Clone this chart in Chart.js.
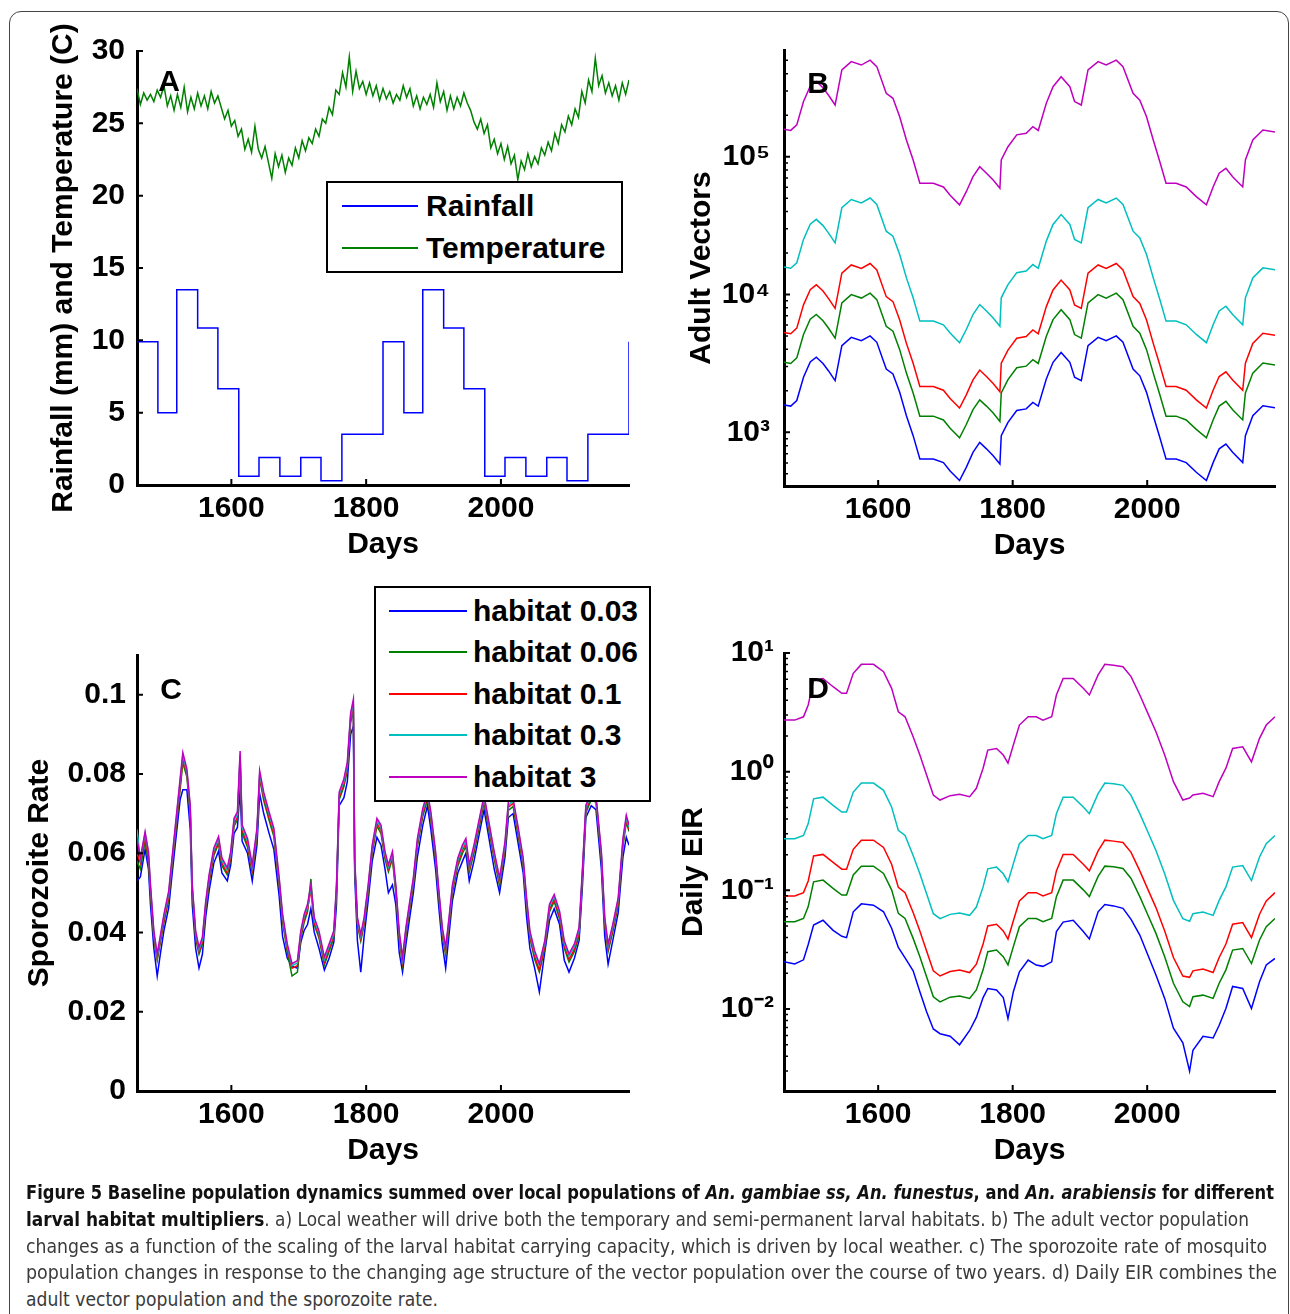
<!DOCTYPE html>
<html>
<head>
<meta charset="utf-8">
<script src="https://cdn.jsdelivr.net/npm/chart.js@4.4.1/dist/chart.umd.min.js"></script>
<style>
html, body { margin: 0; padding: 0; background: #fff; }
body { width: 1290px; height: 1314px; position: relative; overflow: hidden; font-family: 'Liberation Sans', Arial, sans-serif; }
.frame { position: absolute; left: 9px; top: 11px; width: 1278px; height: 1400px; border: 1.5px solid #444; border-radius: 12px; }
canvas { position: absolute; }
.lbl { position: absolute; font-size: 30px; font-weight: bold; line-height: 1; transform: translate(-50%, -50%); color: #000; }
.legend { position: absolute; background: #fff; border: 2px solid #000; box-sizing: border-box; }
.item { position: absolute; font-size: 30px; font-weight: bold; line-height: 1; transform: translateY(-50%); color: #000; white-space: nowrap; }
.swatch { position: absolute; height: 0; border-top: 2px solid; }
.cap { position: absolute; left: 26px; white-space: nowrap; transform-origin: 0 50%; font-size: 19px; line-height: 26px; color: #3a3a3a;
       font-family: 'Liberation Sans Narrow', 'DejaVu Sans Condensed', 'Liberation Sans', sans-serif; }
.cap b { color: #111; }
</style>
</head>
<body>
<div class="frame"></div>
<canvas id="cA" width="645" height="575" style="left:0;top:0"></canvas>
<canvas id="cB" width="645" height="576" style="left:645px;top:0"></canvas>
<canvas id="cC" width="645" height="601" style="left:0;top:580px"></canvas>
<canvas id="cD" width="645" height="601" style="left:645px;top:580px"></canvas>

<div class="lbl" style="left:169px;top:81px">A</div>
<div class="lbl" style="left:818px;top:83px">B</div>
<div class="lbl" style="left:171px;top:689px">C</div>
<div class="lbl" style="left:818px;top:688px">D</div>

<div class="legend" style="left:326px;top:181px;width:297px;height:92px"></div>
<div class="swatch" style="left:342px;top:205px;width:76px;border-color:#0000ff"></div>
<div class="item" style="left:426px;top:206px">Rainfall</div>
<div class="swatch" style="left:342px;top:247px;width:76px;border-color:#008000"></div>
<div class="item" style="left:426px;top:248px">Temperature</div>

<div class="legend" style="left:374px;top:586px;width:277px;height:216px"></div>
<div class="swatch" style="left:389px;top:610px;width:78px;border-color:#0000ff"></div>
<div class="item" style="left:473px;top:611px">habitat 0.03</div>
<div class="swatch" style="left:389px;top:651px;width:78px;border-color:#008000"></div>
<div class="item" style="left:473px;top:652px">habitat 0.06</div>
<div class="swatch" style="left:389px;top:693px;width:78px;border-color:#ff0000"></div>
<div class="item" style="left:473px;top:694px">habitat 0.1</div>
<div class="swatch" style="left:389px;top:734px;width:78px;border-color:#00bfbf"></div>
<div class="item" style="left:473px;top:735px">habitat 0.3</div>
<div class="swatch" style="left:389px;top:776px;width:78px;border-color:#bf00bf"></div>
<div class="item" style="left:473px;top:777px">habitat 3</div>

<div class="cap" data-w="1248" style="top:1179px"><b>Figure 5 Baseline population dynamics summed over local populations of <i>An. gambiae ss, An. funestus</i>, and <i>An. arabiensis</i> for different</b></div>
<div class="cap" data-w="1223" style="top:1206px"><b>larval habitat multipliers</b>. a) Local weather will drive both the temporary and semi-permanent larval habitats. b) The adult vector population</div>
<div class="cap" data-w="1241" style="top:1233px">changes as a function of the scaling of the larval habitat carrying capacity, which is driven by local weather. c) The sporozoite rate of mosquito</div>
<div class="cap" data-w="1251" style="top:1259px">population changes in response to the changing age structure of the vector population over the course of two years. d) Daily EIR combines the</div>
<div class="cap" data-w="412" style="top:1286px">adult vector population and the sporozoite rate.</div>

<script>
// ---- shared axis values ----
const dayMin = 1460;
const dayMax = 2190;
const dayTicks = [1600, 1800, 2000];

// ---- panel A: weather ----
const rainDays = [1460,1491,1519,1550,1580,1611,1641,1672,1703,1733,1764,1794,1825,
                  1856,1884,1915,1945,1976,2006,2037,2068,2098,2129,2159,2190];
const rainfall = [9.9,5,13.5,10.85,6.65,0.6,1.9,0.6,1.9,0.3,3.5,3.5,
                  9.9,5,13.5,10.85,6.65,0.6,1.9,0.6,1.9,0.3,3.5,3.5,9.9];

const tempDays = [1460,1465,1470,1475,1480,1485,1490,1495,1500,1505,1510,1515,1520,1525,1530,1535,1540,1545,1550,1555,
  1560,1565,1570,1575,1580,1585,1590,1595,1600,1605,1610,1615,1620,1625,1630,1635,1640,1645,1650,1655,
  1660,1665,1670,1675,1680,1685,1690,1695,1700,1705,1710,1715,1720,1725,1730,1735,1740,1745,1750,1755,
  1760,1765,1770,1775,1780,1785,1790,1795,1800,1805,1810,1815,1820,1825,1830,1835,1840,1845,1850,1855,
  1860,1865,1870,1875,1880,1885,1890,1895,1900,1905,1910,1915,1920,1925,1930,1935,1940,1945,1950,1955,
  1960,1965,1970,1975,1980,1985,1990,1995,2000,2005,2010,2015,2020,2025,2030,2035,2040,2045,2050,2055,
  2060,2065,2070,2075,2080,2085,2090,2095,2100,2105,2110,2115,2120,2125,2130,2135,2140,2145,2150,2155,
  2160,2165,2170,2175,2180,2185,2190];
const temperature = [27.4,26.3,27.1,26.6,27.0,26.5,27.3,26.8,27.6,26.2,26.9,25.9,27.0,26.1,27.5,25.8,26.8,26.0,27.1,26.2,
  26.9,26.0,27.2,26.4,26.9,26.1,25.3,25.9,24.8,25.2,24.1,24.6,23.2,23.9,23.0,24.8,23.2,22.6,23.4,22.3,
  21.2,22.9,22.0,22.8,21.6,22.6,22.1,23.3,22.6,23.8,23.1,24.0,23.6,24.6,24.1,25.3,25.0,26.1,25.6,27.3,
  27.0,28.5,27.5,29.6,27.2,28.6,27.4,27.9,27.0,27.8,26.9,27.6,26.6,27.4,26.7,27.2,26.4,27.0,26.6,27.6,
  26.8,27.4,26.2,26.9,26.0,26.8,26.3,27.0,26.1,27.8,26.5,27.2,25.9,26.9,26.0,26.8,26.2,27.1,26.4,25.9,
  25.1,24.6,25.3,24.3,24.9,23.3,23.9,22.9,23.6,22.5,23.4,22.2,22.8,21.1,22.4,21.8,22.9,22.0,22.7,22.2,
  23.3,22.8,23.7,23.1,24.3,23.6,24.9,24.4,25.5,24.9,26.0,25.4,27.2,26.4,28.0,27.2,29.5,27.6,28.3,27.1,
  27.8,26.9,27.6,26.6,27.8,27.0,28.0];
const weatherTicks = [0, 5, 10, 15, 20, 25, 30];

// ---- panel B: adult vectors ----
const daysB = [1460,1470,1479,1489,1499,1508,1518,1526,1536,1546,1560,1575,1588,1598,1612,1622,1632,1642,1652,1662,
  1672,1682,1697,1707,1721,1731,1741,1751,1761,1771,1781,1783,1793,1806,1820,1830,1838,1850,1860,1872,
  1885,1892,1902,1912,1927,1939,1954,1964,1979,1989,1999,2009,2018,2028,2043,2058,2073,2088,2098,2107,
  2117,2127,2142,2146,2157,2172,2190];
const vectorsH3 = [158000,155000,170000,251000,324000,351000,316000,280000,237000,426000,
  489000,462000,501000,450000,288000,265000,195000,132000,94600,64100,
  64100,64100,60300,52500,44700,55700,71600,84500,75900,67600,
  58900,94600,118000,144000,148000,165000,155000,244000,322000,380000,
  322000,251000,237000,426000,489000,462000,501000,450000,288000,257000,
  195000,132000,94600,64100,64100,60300,51300,44700,60300,75900,
  82200,71600,60300,94600,132000,156000,151000];
const vectorsH03 = [15800,15500,17000,25100,32400,35100,31600,28000,23700,42600,
  48900,46200,50100,45000,28800,26500,19500,13200,9460,6410,
  6410,6410,6030,5250,4470,5570,7160,8450,7590,6760,
  5890,9460,11800,14400,14800,16500,15500,24400,32200,38000,
  32200,25100,23700,42600,48900,46200,50100,45000,28800,25700,
  19500,13200,9460,6410,6410,6030,5130,4470,6030,7590,
  8220,7160,6030,9460,13200,15600,15100];
const vectorsH01 = [5290,5190,5700,8410,10850,11760,10590,9380,7940,14270,
  16380,15480,16780,15080,9650,8880,6530,4420,3170,2150,
  2150,2150,2020,1760,1500,1870,2400,2830,2540,2260,
  1970,3170,3950,4820,4960,5530,5190,8170,10790,12730,
  10790,8410,7940,14270,16380,15480,16780,15080,9650,8610,
  6530,4420,3170,2150,2150,2020,1720,1500,2020,2540,
  2750,2400,2020,3170,4420,5230,5060];
const vectorsH006 = [3220,3160,3470,5120,6610,7160,6450,5710,4830,8690,
  9980,9420,10220,9180,5880,5410,3980,2690,1930,1310,
  1310,1310,1230,1070,912,1140,1460,1720,1550,1380,
  1200,1930,2410,2940,3020,3370,3160,4980,6570,7750,
  6570,5120,4830,8690,9980,9420,10220,9180,5880,5240,
  3980,2690,1930,1310,1310,1230,1050,912,1230,1550,
  1680,1460,1230,1930,2690,3180,3080];
const vectorsH003 = [1580,1550,1700,2510,3240,3510,3160,2800,2370,4260,
  4890,4620,5010,4500,2880,2650,1950,1320,946,641,
  641,641,603,525,447,557,716,845,759,676,
  589,946,1180,1440,1480,1650,1550,2440,3220,3800,
  3220,2510,2370,4260,4890,4620,5010,4500,2880,2570,
  1950,1320,946,641,641,603,513,447,603,759,
  822,716,603,946,1320,1560,1510];
const vectorTicks = [1e3, 1e4, 1e5];

// ---- panel C: sporozoite rate ----
const daysC = [1460,1465,1472,1477,1480,1485,1490,1495,1500,1507,1512,1517,1524,1528,1534,1539,1542,1547,1552,1557,
  1562,1567,1574,1581,1586,1594,1599,1604,1609,1613,1616,1624,1631,1638,1642,1648,1656,1663,1671,1676,
  1683,1690,1698,1703,1708,1713,1718,1723,1730,1738,1745,1752,1756,1760,1767,1772,1777,1781,1783,1787,
  1792,1797,1803,1809,1816,1822,1828,1833,1839,1844,1849,1854,1859,1864,1870,1876,1884,1891,1896,1903,
  1908,1913,1918,1923,1928,1936,1943,1948,1953,1960,1968,1975,1983,1990,1998,2006,2011,2018,2025,2033,
  2038,2043,2050,2057,2065,2072,2079,2087,2094,2101,2109,2116,2121,2126,2134,2141,2149,2154,2159,2166,
  2174,2181,2186,2190];
const sporoH3 = [0.0637,0.0588,0.0654,0.0604,0.0520,0.0404,0.0346,0.0396,0.0446,0.0504,
  0.0588,0.0671,0.0788,0.0854,0.0813,0.0721,0.0520,0.0404,0.0363,0.0388,
  0.0479,0.0546,0.0613,0.0642,0.0588,0.0563,0.0604,0.0688,0.0704,0.0858,
  0.0671,0.0637,0.0571,0.0663,0.0808,0.0754,0.0704,0.0663,0.0538,0.0446,
  0.0371,0.0321,0.0329,0.0404,0.0446,0.0471,0.0520,0.0438,0.0404,0.0338,
  0.0371,0.0404,0.0520,0.0754,0.0788,0.0829,0.0954,0.0988,0.0588,0.0438,
  0.0396,0.0438,0.0520,0.0621,0.0688,0.0671,0.0604,0.0571,0.0604,0.0520,
  0.0404,0.0338,0.0413,0.0471,0.0538,0.0637,0.0713,0.0754,0.0704,0.0604,
  0.0504,0.0413,0.0363,0.0438,0.0520,0.0588,0.0621,0.0637,0.0571,0.0621,
  0.0688,0.0746,0.0671,0.0604,0.0538,0.0629,0.0729,0.0738,0.0671,0.0588,
  0.0488,0.0404,0.0354,0.0321,0.0379,0.0471,0.0496,0.0454,0.0379,0.0346,
  0.0371,0.0413,0.0563,0.0721,0.0754,0.0746,0.0604,0.0438,0.0371,0.0421,
  0.0488,0.0637,0.0696,0.0671];
const sporoH03 = [0.0660,0.0585,0.0650,0.0600,0.0515,0.0398,0.0340,0.0390,0.0440,0.0498,
  0.0582,0.0665,0.0782,0.0848,0.0806,0.0715,0.0515,0.0398,0.0357,0.0382,
  0.0473,0.0540,0.0607,0.0636,0.0582,0.0557,0.0598,0.0682,0.0698,0.0848,
  0.0665,0.0630,0.0565,0.0657,0.0800,0.0748,0.0698,0.0657,0.0532,0.0440,
  0.0365,0.0316,0.0323,0.0398,0.0440,0.0465,0.0514,0.0432,0.0398,0.0332,
  0.0365,0.0398,0.0514,0.0748,0.0782,0.0822,0.0948,0.0982,0.0582,0.0432,
  0.0390,0.0432,0.0514,0.0615,0.0682,0.0665,0.0598,0.0565,0.0598,0.0514,
  0.0398,0.0332,0.0407,0.0465,0.0532,0.0630,0.0707,0.0748,0.0698,0.0598,
  0.0498,0.0407,0.0357,0.0432,0.0514,0.0582,0.0615,0.0630,0.0565,0.0615,
  0.0682,0.0740,0.0665,0.0598,0.0532,0.0622,0.0722,0.0732,0.0665,0.0582,
  0.0482,0.0398,0.0348,0.0318,0.0373,0.0465,0.0490,0.0448,0.0373,0.0340,
  0.0365,0.0407,0.0557,0.0715,0.0748,0.0740,0.0598,0.0432,0.0365,0.0415,
  0.0482,0.0630,0.0690,0.0665];
const sporoH01 = [0.0600,0.0575,0.0640,0.0590,0.0505,0.0392,0.0335,0.0384,0.0432,0.0490,
  0.0575,0.0656,0.0770,0.0840,0.0800,0.0708,0.0508,0.0392,0.0352,0.0376,
  0.0466,0.0532,0.0600,0.0630,0.0574,0.0550,0.0590,0.0675,0.0690,0.0840,
  0.0658,0.0622,0.0558,0.0650,0.0795,0.0740,0.0690,0.0650,0.0524,0.0434,
  0.0358,0.0310,0.0316,0.0392,0.0432,0.0458,0.0508,0.0424,0.0392,0.0325,
  0.0358,0.0392,0.0508,0.0742,0.0775,0.0815,0.0940,0.0972,0.0575,0.0425,
  0.0384,0.0424,0.0508,0.0608,0.0675,0.0658,0.0592,0.0560,0.0592,0.0508,
  0.0392,0.0325,0.0400,0.0458,0.0525,0.0624,0.0700,0.0742,0.0690,0.0592,
  0.0492,0.0400,0.0350,0.0424,0.0508,0.0575,0.0608,0.0624,0.0558,0.0608,
  0.0675,0.0735,0.0658,0.0592,0.0525,0.0615,0.0716,0.0726,0.0658,0.0575,
  0.0475,0.0392,0.0340,0.0305,0.0366,0.0458,0.0484,0.0440,0.0366,0.0332,
  0.0358,0.0400,0.0550,0.0710,0.0742,0.0735,0.0592,0.0424,0.0358,0.0408,
  0.0475,0.0624,0.0684,0.0660];
const sporoH006 = [0.0580,0.0560,0.0630,0.0575,0.0495,0.0385,0.0330,0.0378,0.0425,0.0482,
  0.0566,0.0648,0.0760,0.0828,0.0792,0.0700,0.0500,0.0385,0.0345,0.0370,
  0.0460,0.0525,0.0594,0.0624,0.0568,0.0545,0.0585,0.0668,0.0684,0.0830,
  0.0650,0.0615,0.0552,0.0642,0.0788,0.0733,0.0683,0.0642,0.0518,0.0428,
  0.0350,0.0290,0.0300,0.0385,0.0425,0.0452,0.0535,0.0420,0.0386,0.0318,
  0.0352,0.0386,0.0500,0.0735,0.0768,0.0808,0.0930,0.0958,0.0568,0.0420,
  0.0378,0.0420,0.0500,0.0600,0.0668,0.0650,0.0585,0.0553,0.0585,0.0500,
  0.0386,0.0318,0.0392,0.0452,0.0518,0.0617,0.0693,0.0735,0.0683,0.0585,
  0.0485,0.0392,0.0343,0.0418,0.0500,0.0568,0.0600,0.0617,0.0552,0.0600,
  0.0668,0.0728,0.0650,0.0585,0.0518,0.0608,0.0708,0.0718,0.0650,0.0568,
  0.0468,0.0386,0.0332,0.0300,0.0360,0.0452,0.0478,0.0434,0.0360,0.0325,
  0.0352,0.0392,0.0543,0.0702,0.0735,0.0728,0.0585,0.0418,0.0352,0.0402,
  0.0468,0.0617,0.0678,0.0655];
const sporoH003 = [0.0530,0.0540,0.0610,0.0560,0.0470,0.0360,0.0290,0.0350,0.0405,0.0462,
  0.0545,0.0625,0.0735,0.0760,0.0760,0.0660,0.0470,0.0360,0.0310,0.0345,
  0.0440,0.0505,0.0575,0.0605,0.0550,0.0530,0.0570,0.0650,0.0665,0.0760,
  0.0630,0.0600,0.0530,0.0620,0.0750,0.0700,0.0650,0.0610,0.0490,0.0390,
  0.0335,0.0315,0.0310,0.0375,0.0405,0.0420,0.0460,0.0400,0.0360,0.0305,
  0.0335,0.0375,0.0470,0.0720,0.0740,0.0780,0.0900,0.0920,0.0545,0.0380,
  0.0300,0.0390,0.0480,0.0580,0.0640,0.0620,0.0560,0.0500,0.0520,0.0470,
  0.0350,0.0300,0.0370,0.0430,0.0500,0.0590,0.0670,0.0720,0.0660,0.0560,
  0.0460,0.0370,0.0310,0.0395,0.0480,0.0550,0.0580,0.0600,0.0530,0.0580,
  0.0650,0.0710,0.0630,0.0560,0.0500,0.0590,0.0690,0.0700,0.0630,0.0550,
  0.0440,0.0360,0.0310,0.0250,0.0350,0.0430,0.0460,0.0420,0.0330,0.0300,
  0.0335,0.0380,0.0520,0.0690,0.0720,0.0710,0.0560,0.0390,0.0320,0.0380,
  0.0450,0.0590,0.0640,0.0620];
const sporoTicks = [0, 0.02, 0.04, 0.06, 0.08, 0.1];

// ---- panel D: daily EIR ----
const daysD = [1460,1476,1489,1496,1504,1518,1533,1546,1553,1563,1575,1593,1608,1620,1630,1640,1652,1662,1672,1682,
  1692,1707,1721,1736,1746,1756,1763,1776,1786,1793,1801,1810,1823,1835,1845,1858,1865,1875,1890,1905,
  1914,1927,1937,1950,1964,1976,1989,2001,2013,2026,2039,2053,2063,2068,2083,2098,2107,2117,2127,2142,
  2155,2167,2177,2190];
const eirH3 = [2.72,2.72,2.9,3.65,5.9,6.1,5.2,4.57,4.57,6.74,8.02,8.02,6.96,5.04,3.2,2.9,1.97,1.38,0.937,0.636,
  0.577,0.628,0.644,0.616,0.724,1.07,1.52,1.57,1.38,1.18,1.68,2.47,2.9,2.9,2.72,2.9,4.43,6.1,6.1,5.04,
  4.43,6.53,8.02,7.9,7.67,6.32,4.43,3.1,2.17,1.38,0.824,0.577,0.6,0.636,0.657,0.616,0.824,1.07,1.57,1.62,
  1.21,1.91,2.47,2.9];
const eirH03 = [0.272,0.272,0.29,0.365,0.59,0.61,0.52,0.457,0.457,0.674,0.802,0.802,0.696,0.504,0.32,0.29,0.197,0.138,0.0937,0.0636,
  0.0577,0.0628,0.0644,0.0616,0.0724,0.107,0.152,0.157,0.138,0.118,0.168,0.247,0.29,0.29,0.272,0.29,0.443,0.61,0.61,0.504,
  0.443,0.653,0.802,0.79,0.767,0.632,0.443,0.31,0.217,0.138,0.0824,0.0577,0.055,0.0636,0.0657,0.0616,0.0824,0.107,0.157,0.162,
  0.121,0.191,0.247,0.29];
const eirH01 = [0.0898,0.0898,0.0957,0.12,0.195,0.201,0.172,0.151,0.151,0.222,0.265,0.265,0.23,0.166,0.106,0.0957,0.065,0.0455,0.0309,0.021,
  0.019,0.0207,0.0213,0.0203,0.0239,0.0353,0.0502,0.0518,0.0455,0.0389,0.0554,0.0815,0.0957,0.0957,0.0898,0.0957,0.146,0.201,0.201,0.166,
  0.146,0.215,0.265,0.26,0.253,0.209,0.146,0.102,0.0716,0.0455,0.0272,0.019,0.0185,0.021,0.0217,0.0203,0.0272,0.0353,0.0518,0.0535,
  0.04,0.063,0.0815,0.0957];
const eirH006 = [0.0544,0.0544,0.058,0.073,0.118,0.122,0.104,0.0914,0.0914,0.135,0.16,0.16,0.139,0.101,0.064,0.058,0.0394,0.0276,0.0187,0.0127,
  0.0115,0.0126,0.0129,0.0123,0.0145,0.0214,0.0304,0.0314,0.0276,0.0236,0.0336,0.0494,0.058,0.058,0.0544,0.058,0.0886,0.122,0.122,0.101,
  0.0886,0.131,0.16,0.158,0.153,0.126,0.0886,0.062,0.0434,0.0276,0.0165,0.0115,0.0105,0.0127,0.0131,0.0123,0.0165,0.0214,0.0314,0.0324,
  0.0242,0.0382,0.0494,0.058];
const eirH003 = [0.025,0.024,0.026,0.035,0.051,0.056,0.046,0.041,0.040,0.066,0.077,0.075,0.066,0.048,0.033,0.027,0.021,0.014,0.0095,0.0068,
  0.0062,0.0059,0.005,0.0066,0.0085,0.0125,0.0149,0.0145,0.0125,0.0083,0.014,0.0206,0.0259,0.0235,0.0229,0.025,0.045,0.054,0.056,0.045,
  0.039,0.066,0.076,0.074,0.0705,0.057,0.042,0.0285,0.0194,0.0123,0.0069,0.0052,0.003,0.0045,0.0059,0.0057,0.0073,0.0101,0.0155,0.0149,
  0.0101,0.017,0.0235,0.0267];
const eirTicks = [1e-2, 1e-1, 1e0, 1e1];

const BLUE = '#0000ff', GREEN = '#008000', RED = '#ff0000', CYAN = '#00bfbf', MAGENTA = '#bf00bf';

Chart.defaults.font.family = "'Liberation Sans', Arial, sans-serif";
Chart.defaults.font.size = 30;
Chart.defaults.font.weight = 'bold';
Chart.defaults.color = '#000';

const SUP = { '0': '\u2070', '1': '\u00b9', '2': '\u00b2', '3': '\u00b3', '4': '\u2074', '5': '\u2075',
              '6': '\u2076', '7': '\u2077', '8': '\u2078', '9': '\u2079', '-': '\u207b' };
function powLabel(v) {
  const e = String(Math.round(Math.log10(v)));
  return '10' + e.split('').map(c => SUP[c]).join('');
}

function pts(xs, ys) {
  return xs.map((x, i) => ({ x: x, y: ys[i] }));
}
function series(xs, ys, color, extra) {
  return Object.assign({ data: pts(xs, ys), borderColor: color, borderWidth: 1.5,
                         pointRadius: 0, fill: false, tension: 0 }, extra || {});
}

// MATLAB style ticks pointing into the plot, plus minor ticks on log axes
const inwardTicks = {
  id: 'inwardTicks',
  afterDraw(chart) {
    const { ctx, chartArea: a, scales } = chart;
    const x = scales.x, y = scales.y;
    ctx.save();
    ctx.strokeStyle = '#000';
    ctx.lineWidth = 2;
    ctx.beginPath();
    x.ticks.forEach(t => {
      const p = x.getPixelForValue(t.value);
      ctx.moveTo(p, a.bottom); ctx.lineTo(p, a.bottom - 6);
    });
    y.ticks.forEach(t => {
      const p = y.getPixelForValue(t.value);
      ctx.moveTo(a.left, p); ctx.lineTo(a.left + 6, p);
    });
    ctx.stroke();
    if (y.type === 'logarithmic') {
      ctx.lineWidth = 1.5;
      ctx.beginPath();
      for (let e = Math.floor(Math.log10(y.min)); e <= Math.ceil(Math.log10(y.max)); e++) {
        for (let k = 2; k <= 9; k++) {
          const v = k * Math.pow(10, e);
          if (v < y.min || v > y.max) continue;
          const p = y.getPixelForValue(v);
          ctx.moveTo(a.left, p); ctx.lineTo(a.left + 4, p);
        }
      }
      ctx.stroke();
    }
    ctx.restore();
  }
};

function xAxis() {
  return {
    type: 'linear', min: dayMin, max: dayMax,
    afterBuildTicks: s => { s.ticks = dayTicks.map(v => ({ value: v })); },
    afterFit: s => { s.height = 90; },
    grid: { display: false, drawTicks: false },
    border: { display: true, color: '#000', width: 3 },
    ticks: { padding: 6, maxRotation: 0, callback: v => String(v) },
    title: { display: true, text: 'Days', padding: { top: 0, bottom: 12 } }
  };
}

function yAxis(o) {
  return {
    type: o.type || 'linear', min: o.min, max: o.max,
    afterBuildTicks: s => { s.ticks = o.ticks.map(v => ({ value: v })); },
    afterFit: s => { s.width = o.width; },
    grid: { display: false, drawTicks: false },
    border: { display: true, color: '#000', width: 3 },
    ticks: { padding: o.tickPad, callback: o.fmt },
    title: { display: true, text: o.title, padding: { top: o.titlePad, bottom: 0 } }
  };
}

function panel(id, datasets, y, pad) {
  return new Chart(document.getElementById(id), {
    type: 'line',
    data: { datasets: datasets },
    options: {
      responsive: false,
      animation: false,
      layout: { padding: pad },
      plugins: { legend: { display: false }, tooltip: { enabled: false } },
      scales: { x: xAxis(), y: yAxis(y) }
    },
    plugins: [inwardTicks]
  });
}

panel('cA', [
  series(tempDays, temperature, GREEN),
  series(rainDays, rainfall, BLUE, { stepped: true })
], { min: 0, max: 30, ticks: weatherTicks, width: 137, tickPad: 12, titlePad: 46,
     title: 'Rainfall (mm) and Temperature (C)', fmt: v => String(v) },
   { top: 51, right: 16, left: 0, bottom: 0 });

panel('cB', [
  series(daysB, vectorsH3, MAGENTA),
  series(daysB, vectorsH03, CYAN),
  series(daysB, vectorsH01, RED),
  series(daysB, vectorsH006, GREEN),
  series(daysB, vectorsH003, BLUE)
], { type: 'logarithmic', min: 408, max: 594000, ticks: vectorTicks, width: 139, tickPad: 14, titlePad: 39,
     title: 'Adult Vectors', fmt: v => powLabel(v) },
   { top: 50, right: 15, left: 0, bottom: 0 });

panel('cC', [
  series(daysC, sporoH3, MAGENTA),
  series(daysC, sporoH03, CYAN),
  series(daysC, sporoH01, RED),
  series(daysC, sporoH006, GREEN),
  series(daysC, sporoH003, BLUE)
], { min: 0, max: 0.11, ticks: sporoTicks, width: 137, tickPad: 11, titlePad: 22,
     title: 'Sporozoite Rate', fmt: v => String(+v.toFixed(2)) },
   { top: 75, right: 16, left: 0, bottom: 0 });

panel('cD', [
  series(daysD, eirH3, MAGENTA),
  series(daysD, eirH03, CYAN),
  series(daysD, eirH01, RED),
  series(daysD, eirH006, GREEN),
  series(daysD, eirH003, BLUE)
], { type: 'logarithmic', min: 0.00204, max: 10, ticks: eirTicks, width: 139, tickPad: 10, titlePad: 31,
     title: 'Daily EIR', fmt: v => powLabel(v) },
   { top: 73, right: 15, left: 0, bottom: 0 });

// fit each caption line to the width it has in the figure
document.querySelectorAll('.cap').forEach(el => {
  const w = el.getBoundingClientRect().width;
  el.style.transform = 'scaleX(' + (Number(el.dataset.w) / w) + ')';
});
</script>
</body>
</html>
